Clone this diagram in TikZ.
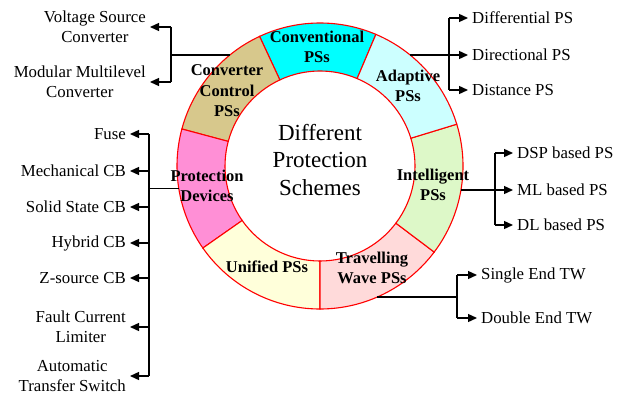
\documentclass[tikz,border=0pt]{standalone}
\usepackage{fontspec}
\setmainfont{Liberation Serif}
\usetikzlibrary{arrows.meta}

\definecolor{convcol}{RGB}{0,255,255}
\definecolor{adapcol}{RGB}{204,255,255}
\definecolor{intecol}{RGB}{221,248,200}
\definecolor{travcol}{RGB}{255,218,218}
\definecolor{unifcol}{RGB}{255,255,218}
\definecolor{protcol}{RGB}{255,143,214}
\definecolor{convertcol}{RGB}{215,200,140}

% one coloured sector of the ring: start angle, end angle, fill colour
\newcommand\ringpart[3]{%
  \draw[ring, fill=#3] (#1:143) arc[start angle=#1, end angle=#2, radius=143]
    -- (#2:95) arc[start angle=#2, end angle=#1, radius=95] -- cycle;}

\begin{document}
\begin{tikzpicture}[x=1pt, y=1pt,
  ring/.style={draw=red, line width=1.1pt},
  seglabel/.style={font=\fontsize{16.5}{20.5}\selectfont\bfseries, align=center, inner sep=0pt},
  item/.style={font=\fontsize{16.8}{20}\selectfont, align=center, inner xsep=4pt, inner ysep=0pt},
  link/.style={line width=1.3pt},
  arr/.style={link, -{Triangle[length=9pt, width=8pt]}}
]
\useasboundingbox (0,0) rectangle (617,397);

% ring of protection schemes
\begin{scope}[shift={(320,231)}]
  \ringpart{67}{115}{convcol}
  \ringpart{115}{165}{convertcol}
  \ringpart{165}{215}{protcol}
  \ringpart{215}{270}{unifcol}
  \ringpart{270}{323}{travcol}
  \ringpart{323}{377}{intecol}
  \ringpart{17}{67}{adapcol}
  \coordinate (pcc) at (129:143);
  \coordinate (ppd) at (189:143);
  \coordinate (pad) at (51:143);
  \coordinate (pin) at (-9.7:143);
  \coordinate (ptw) at (-66.5:143);
\end{scope}

\node[font=\fontsize{23}{27.5}\selectfont, align=center] (centre) at (320,237)
  {Different\\Protection\\Schemes};

\node[seglabel] (conv) at (317,350) {Conventional\\PSs};
\node[seglabel] (adap) at (408,311) {Adaptive\\PSs};
\node[seglabel] (cctl) at (227,306) {Converter\\Control\\PSs};
\node[seglabel] (prot) at (207,211) {Protection\\Devices};
\node[seglabel] (inte) at (433,212) {Intelligent\\PSs};
\node[seglabel] (unif) at (267,130) {Unified PSs};
\node[seglabel] (trav) at (372,129) {Travelling\\Wave PSs};

% converter control branch
\coordinate (ccbar) at (171,0);
\node[item, anchor=east] (vsc) at (150,370) {Voltage Source\\Converter};
\node[item, anchor=east] (mmc) at (150,315) {Modular Multilevel\\Converter};
\draw[link] (pcc) -- (pcc -| ccbar);
\draw[link] (vsc.east -| ccbar) -- (mmc.east -| ccbar);
\draw[arr] (vsc.east -| ccbar) -- (vsc.east);
\draw[arr] (mmc.east -| ccbar) -- (mmc.east);

% protection devices branch
\coordinate (pdbar) at (149,0);
\node[item, anchor=east] (fuse) at (130,263) {Fuse};
\node[item, anchor=east] (mcb) at (130,226) {Mechanical CB};
\node[item, anchor=east] (sscb) at (130,190) {Solid State CB};
\node[item, anchor=east] (hcb) at (130,154) {Hybrid CB};
\node[item, anchor=east] (zcb) at (130,119) {Z-source CB};
\node[item, anchor=east] (fcl) at (130,70) {Fault Current\\Limiter};
\node[item, anchor=east] (ats) at (130,21) {Automatic\\Transfer Switch};
\draw[link] (ppd) -- (ppd -| pdbar);
\draw[link] (fuse.east -| pdbar) -- (ats.east -| pdbar);
\foreach \n in {fuse,mcb,sscb,hcb,zcb,fcl,ats}
  \draw[arr] (\n.east -| pdbar) -- (\n.east);

% adaptive branch
\coordinate (adbar) at (449,0);
\node[item, anchor=west] (dif) at (468,379) {Differential PS};
\node[item, anchor=west] (dir) at (468,342) {Directional PS};
\node[item, anchor=west] (dis) at (468,307) {Distance PS};
\draw[link] (pad) -- (pad -| adbar);
\draw[link] (dif.west -| adbar) -- (dis.west -| adbar);
\foreach \n in {dif,dir,dis}
  \draw[arr] (\n.west -| adbar) -- (\n.west);

% intelligent branch
\coordinate (inbar) at (495,0);
\node[item, anchor=west] (dsp) at (513,244) {DSP based PS};
\node[item, anchor=west] (ml) at (513,207) {ML based PS};
\node[item, anchor=west] (dl) at (513,172) {DL based PS};
\draw[link] (pin) -- (pin -| inbar);
\draw[link] (dsp.west -| inbar) -- (dl.west -| inbar);
\foreach \n in {dsp,ml,dl}
  \draw[arr] (\n.west -| inbar) -- (\n.west);

% travelling wave branch
\coordinate (twbar) at (457,0);
\node[item, anchor=west] (se) at (477,122) {Single End TW};
\node[item, anchor=west] (de) at (477,79) {Double End TW};
\draw[link] (ptw) -- (ptw -| twbar);
\draw[link] (se.west -| twbar) -- (de.west -| twbar);
\foreach \n in {se,de}
  \draw[arr] (\n.west -| twbar) -- (\n.west);
\end{tikzpicture}
\end{document}
